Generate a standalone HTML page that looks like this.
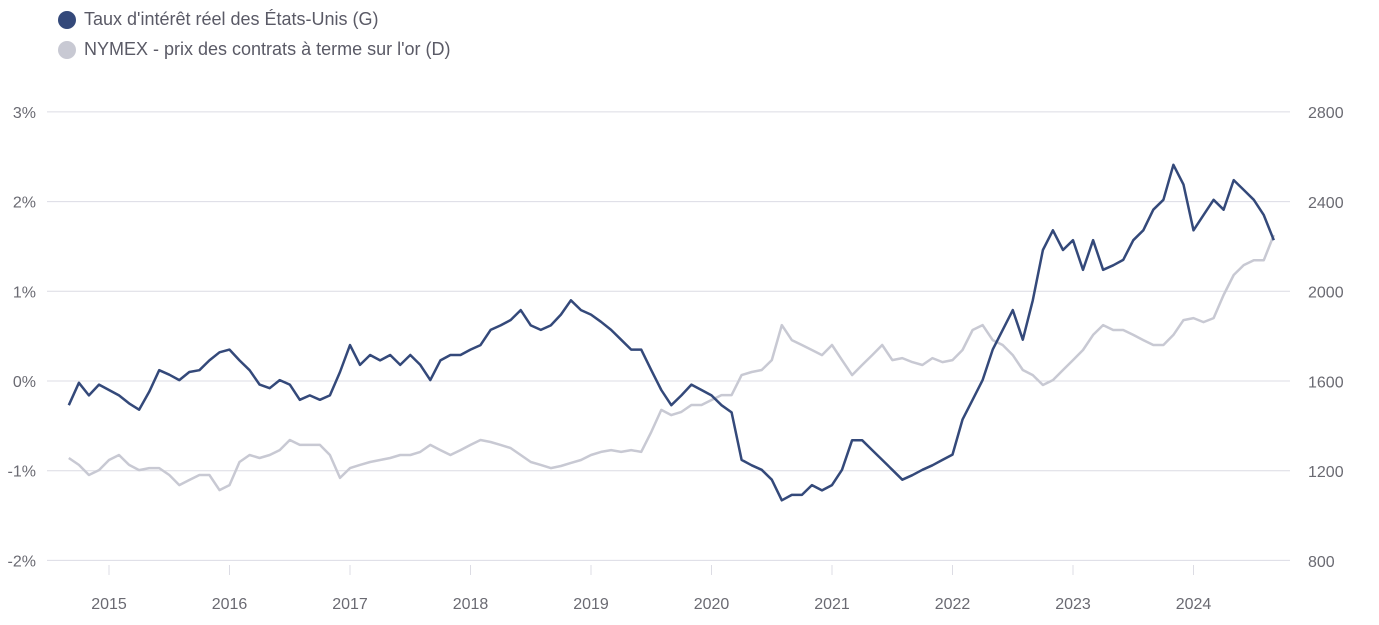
<!DOCTYPE html>
<html><head><meta charset="utf-8"><style>
html,body{margin:0;padding:0;background:#fff;width:1379px;height:625px;overflow:hidden;font-family:"Liberation Sans",sans-serif}
.leg{position:absolute;left:58px;font-size:18px;color:#5a5a66;display:flex;align-items:center}
.dot{width:18px;height:18px;border-radius:50%;margin-right:8px}
</style></head><body>
<div class="leg" style="top:9px"><span class="dot" style="background:#34497a"></span>Taux d'intérêt réel des États-Unis (G)</div>
<div class="leg" style="top:39px"><span class="dot" style="background:#c8c9d3"></span>NYMEX - prix des contrats à terme sur l'or (D)</div>
<svg id="chart" width="1379" height="625" style="position:absolute;left:0;top:0"></svg>
<script>
const startYear = 2014 + 8/12;
const leftTicks = [3,2,1,0,-1,-2];
const leftTickLabels = ["3%","2%","1%","0%","-1%","-2%"];
const rightTicks = [2800,2400,2000,1600,1200,800];
const yearTicks = [2015,2016,2017,2018,2019,2020,2021,2022,2023,2024];
const realRate = [-0.27,-0.02,-0.16,-0.04,-0.1,-0.16,-0.25,-0.32,-0.12,0.12,0.07,0.01,0.1,0.12,0.23,0.32,0.35,0.23,0.12,-0.04,-0.08,0.01,-0.04,-0.21,-0.16,-0.21,-0.16,0.1,0.4,0.18,0.29,0.23,0.29,0.18,0.29,0.18,0.01,0.23,0.29,0.29,0.35,0.4,0.57,0.62,0.68,0.79,0.62,0.57,0.62,0.74,0.9,0.79,0.74,0.66,0.57,0.46,0.35,0.35,0.12,-0.1,-0.27,-0.16,-0.04,-0.1,-0.16,-0.27,-0.35,-0.88,-0.94,-0.99,-1.1,-1.33,-1.27,-1.27,-1.16,-1.22,-1.16,-0.99,-0.66,-0.66,-0.77,-0.88,-0.99,-1.1,-1.05,-0.99,-0.94,-0.88,-0.82,-0.43,-0.21,0.01,0.35,0.57,0.79,0.46,0.9,1.46,1.68,1.46,1.57,1.24,1.57,1.24,1.29,1.35,1.57,1.68,1.91,2.02,2.41,2.19,1.68,1.85,2.02,1.91,2.24,2.13,2.02,1.85,1.57];
const goldPrice = [1259,1228,1183,1205,1250,1272,1228,1205,1214,1214,1183,1138,1161,1183,1183,1116,1138,1241,1272,1259,1272,1294,1339,1317,1317,1317,1272,1170,1214,1228,1241,1250,1259,1272,1272,1286,1317,1294,1272,1294,1317,1339,1330,1317,1303,1272,1241,1228,1214,1223,1237,1250,1272,1286,1294,1286,1294,1286,1375,1473,1450,1464,1495,1495,1517,1539,1539,1628,1642,1651,1695,1851,1784,1762,1740,1717,1762,1695,1628,1673,1717,1762,1695,1704,1686,1673,1704,1686,1695,1740,1829,1851,1784,1762,1717,1651,1628,1584,1606,1651,1695,1740,1807,1851,1829,1829,1807,1784,1762,1762,1807,1873,1882,1864,1882,1985,2074,2118,2140,2140,2252];

const NS="http://www.w3.org/2000/svg";
const svg=document.getElementById('chart');
const X0=47,X1=1290;
const xs=t=>109+(t-2015)*120.5;
const yl=v=>381-v*89.7;
const yr=v=>561-(v-800)*449/2000;
function el(tag,attrs){const e=document.createElementNS(NS,tag);for(const k in attrs)e.setAttribute(k,attrs[k]);svg.appendChild(e);return e;}
leftTicks.forEach((v,i)=>{
  const g=el('line',{x1:X0,x2:X1,y1:yl(v),y2:yl(v),stroke:'#dcdce4','stroke-width':1});
  
  
  const t=el('text',{x:36,y:yl(v)+6,'text-anchor':'end','font-size':16,fill:'#6a6a72'});
  t.textContent=leftTickLabels[i];
  
  
});
rightTicks.forEach(v=>{
  const t=el('text',{x:1308,y:yr(v)+6,'font-size':16,fill:'#6a6a72'});
  t.textContent=String(v);
  
  
});
yearTicks.forEach(y=>{
  const m=el('line',{x1:xs(y),x2:xs(y),y1:565,y2:575,stroke:'#dcdce4','stroke-width':1});
  
  
  const t=el('text',{x:xs(y),y:609,'text-anchor':'middle','font-size':16,fill:'#6a6a72'});
  t.textContent=String(y);
  
  
});
function path(arr,yf,color){
  return arr.map((v,i)=>(i?'L':'M')+xs(startYear+i/12).toFixed(1)+','+yf(v).toFixed(1)).join('');
}
const g=el('path',{d:path(goldPrice,yr),fill:'none',stroke:'#c8c9d3','stroke-width':2.5,'stroke-linejoin':'round'});


const r=el('path',{d:path(realRate,yl),fill:'none',stroke:'#34497a','stroke-width':2.5,'stroke-linejoin':'round'});


</script>
</body></html>
